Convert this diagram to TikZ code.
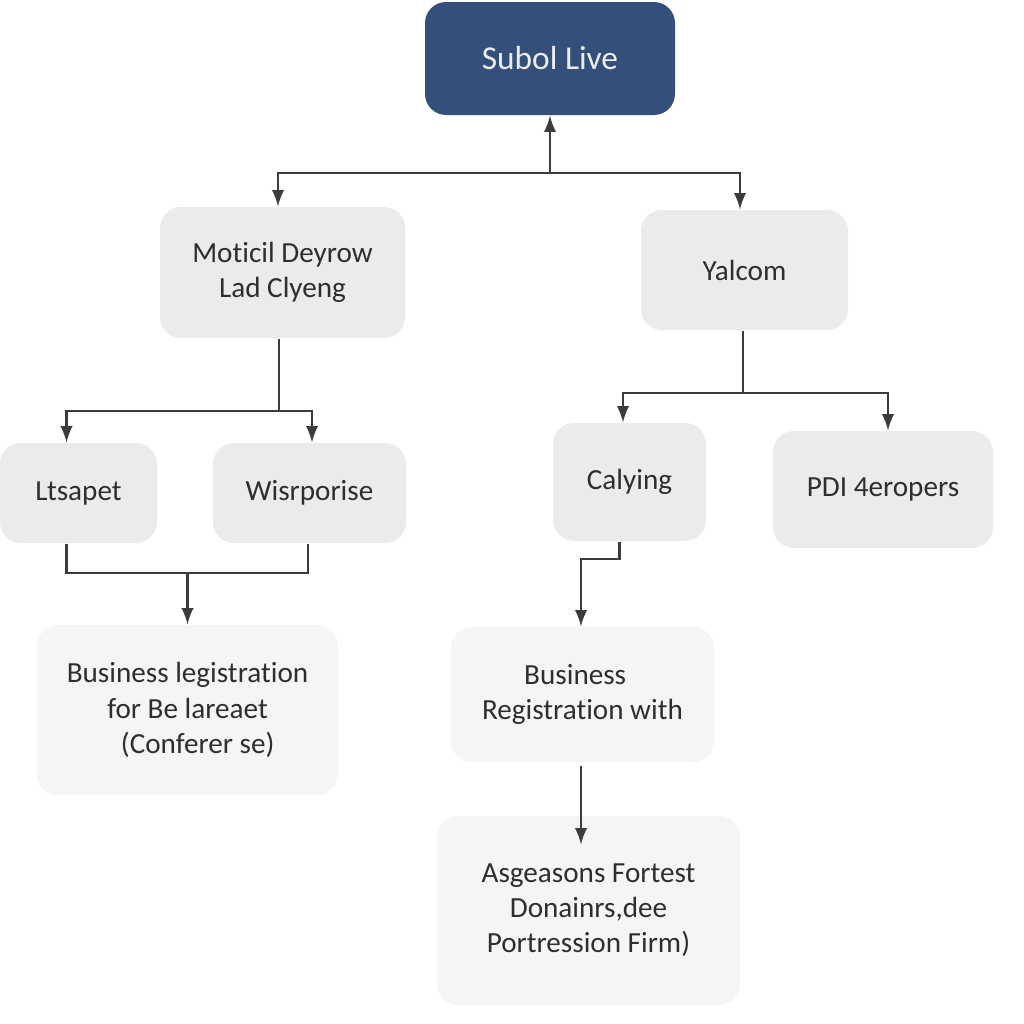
\documentclass[tikz,border=0pt]{standalone}
\usepackage{fontspec}
\setmainfont{Carlito}[Ligatures=NoCommon]
\usetikzlibrary{shapes,arrows,positioning}
\definecolor{capo}{HTML}{34507A}
\definecolor{grigio}{HTML}{EBEBEB}
\definecolor{chiaro}{HTML}{F5F5F3}
\definecolor{linea}{HTML}{3C3C3C}
\definecolor{testo}{HTML}{2E2E2E}
\tikzset{
  box/.style={rectangle, rounded corners=6pt, fill=grigio, text=testo, align=center,
    font=\fontsize{8.3}{10}\selectfont, inner sep=2pt},
  topbox/.style={box, fill=capo, text=white!90!capo, font=\fontsize{9.5}{11}\selectfont},
  pale/.style={box, fill=chiaro},
  line/.style={draw=linea, line width=0.6pt},
  arr/.style={line, -latex}
}
\begin{document}
\begin{tikzpicture}
\useasboundingbox[fill=white] (0,0) rectangle (10.24,-10.24);

% Nodi
\node[topbox, minimum width=2.50cm, minimum height=1.13cm] (top) at (5.50,-0.585) {Subol Live};
\node[box, minimum width=2.45cm, minimum height=1.31cm] (mot) at (2.825,-2.725) {Moticil Deyrow\\Lad Clyeng};
\node[box, minimum width=2.07cm, minimum height=1.20cm] (yal) at (7.445,-2.70) {Yalcom};
\node[box, minimum width=1.57cm, minimum height=1.00cm] (lts) at (0.785,-4.93) {Ltsapet};
\node[box, minimum width=1.93cm, minimum height=1.00cm] (wis) at (3.095,-4.93) {Wisrporise};
\node[box, minimum width=1.53cm, minimum height=1.18cm] (cal) at (6.295,-4.82) {Calying};
\node[box, minimum width=2.20cm, minimum height=1.17cm] (pdi) at (8.83,-4.895) {PDI 4eropers};
\node[pale, minimum width=3.01cm, minimum height=1.70cm] (bus1) at (1.875,-7.10) {Business legistration\\for Be lareaet\\\hspace*{0.7em}(Conferer se)};
\node[pale, minimum width=2.63cm, minimum height=1.35cm] (bus2) at (5.825,-6.945) {Business\hspace*{0.5em}\\Registration with};
\node[pale, minimum width=3.03cm, minimum height=1.89cm] (asg) at (5.885,-9.105) {Asgeasons Fortest\\Donainrs,dee\\Portression Firm)};

% Snodi
\coordinate (topbus) at (top.south |- 0,-1.73);
\coordinate (motbus) at ([xshift=-0.35mm]mot.south |- 0,-4.11);
\coordinate (ltsbus) at (bus1.north |- 0,-5.73);
\coordinate (yalbus) at ([xshift=-0.15mm]yal.south |- 0,-3.93);

% Collegamenti
\draw[arr] (topbus) -- (top.south);
\draw[arr] (topbus) -| ([xshift=-0.45mm]mot.north);
\draw[arr] (topbus) -| ([xshift=-0.45mm]yal.north);
\draw[line] ([xshift=-0.35mm]mot.south) -- (motbus);
\draw[arr] (motbus) -| ([xshift=-1.2mm]lts.north);
\draw[arr] (motbus) -| ([xshift=0.25mm]wis.north);
\draw[line] ([xshift=-1.2mm]lts.south) |- (ltsbus) -| ([xshift=-0.15mm]wis.south);
\draw[arr] (ltsbus) -- (bus1.north);
\draw[line] ([xshift=-0.15mm]yal.south) -- (yalbus);
\draw[arr] (yalbus) -| ([xshift=-0.65mm]cal.north);
\draw[arr] (yalbus) -| ([xshift=0.5mm]pdi.north);
\draw[arr] ([xshift=-1mm]cal.south) -- ++(0,-0.17) -| ([xshift=-0.15mm]bus2.north);
\draw[arr] ([xshift=-0.15mm,yshift=-0.3mm]bus2.south) -- ([xshift=-0.15mm,yshift=-2.9mm]bus2.south |- asg.north);
\end{tikzpicture}
\end{document}
